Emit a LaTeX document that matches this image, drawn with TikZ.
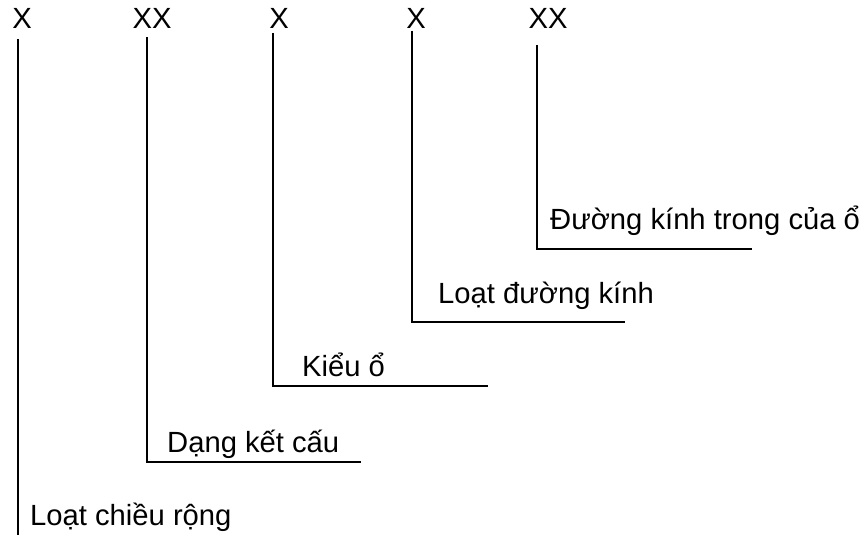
\documentclass[tikz,border=0pt]{standalone}
\usepackage{fontspec}
\setmainfont{Liberation Sans}
\begin{document}
\begin{tikzpicture}[x=1pt,y=-1pt,
  code/.style={anchor=base,inner sep=0pt,font=\fontsize{29.2}{35}\selectfont},
  caption/.style={anchor=base west,inner sep=0pt,font=\fontsize{29.2}{35}\selectfont},
  leader/.style={line width=1.5pt,line cap=butt}]
\useasboundingbox (0,0) rectangle (864,535);

% code letters
\node[code] (c1) at (22,29) {X};
\node[code] (c2) at (152,29) {XX};
\node[code] (c3) at (279,29) {X};
\node[code] (c4) at (416,29) {X};
\node[code] (c5) at (548,29) {XX};

% meanings
\node[caption] (l1) at (30,525) {Loạt chiều rộng};
\node[caption] (l2) at (167,452) {Dạng kết cấu};
\node[caption] (l3) at (302,376) {Kiểu ổ};
\node[caption] (l4) at (438,303) {Loạt đường kính};
\node[caption] (l5) at (550,229) {Đường kính trong của ổ};

% leader line ends
\coordinate (t1) at (18,39);   \coordinate (e1) at (18,535);
\coordinate (t2) at (147,37);  \coordinate (e2) at (361,462);
\coordinate (t3) at (273,33);  \coordinate (e3) at (488,386);
\coordinate (t4) at (412,31);  \coordinate (e4) at (625,322);
\coordinate (t5) at (537,45);  \coordinate (e5) at (752,249);

\draw[leader] (t1) -- (e1);
\draw[leader] (t2) |- (e2);
\draw[leader] (t3) |- (e3);
\draw[leader] (t4) |- (e4);
\draw[leader] (t5) |- (e5);
\end{tikzpicture}
\end{document}
